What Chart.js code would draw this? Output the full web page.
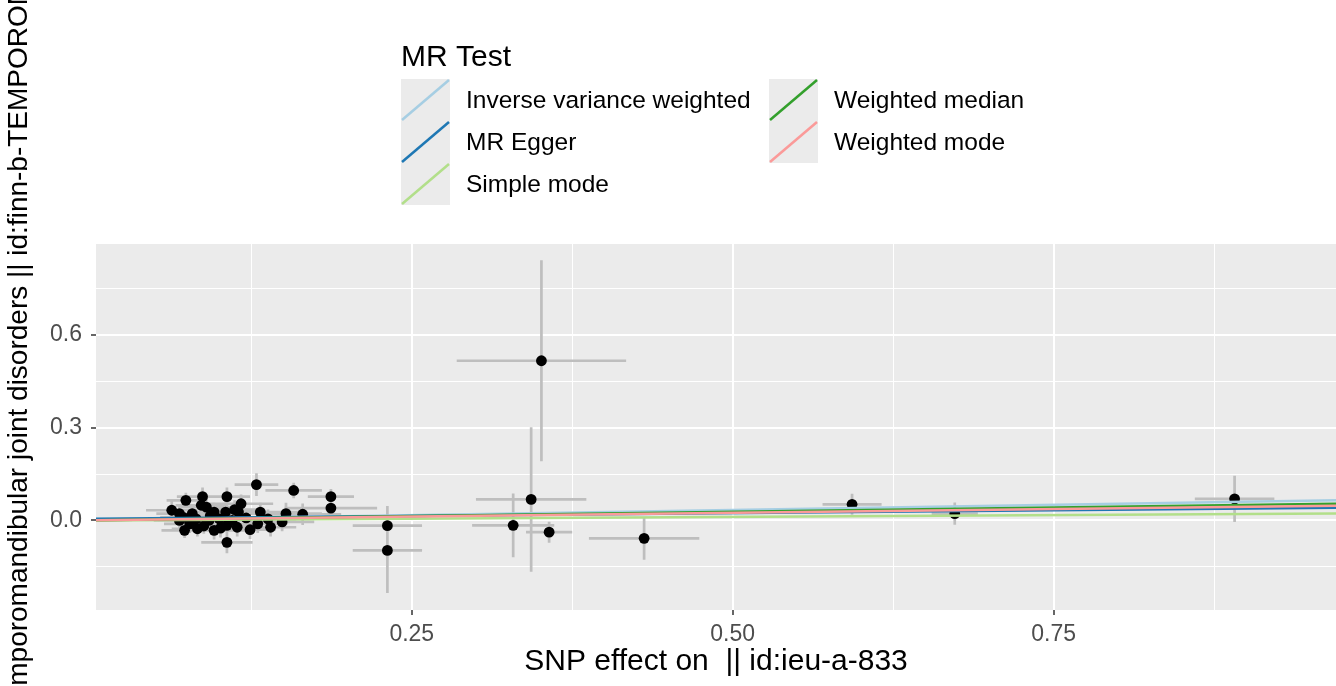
<!DOCTYPE html>
<html>
<head>
<meta charset="utf-8">
<script src="https://cdn.jsdelivr.net/npm/chart.js@4.4.0/dist/chart.umd.min.js"></script>
<style>
  html, body { margin: 0; padding: 0; background: #fff; }
  canvas { display: block; }
</style>
</head>
<body>
<canvas id="mrChart" width="1336" height="686"></canvas>
<script>
// SNP effects on exposure (x) and outcome (y), with their standard errors
const snpX = [0.129, 0.158, 0.187, 0.187, 0.074, 0.087, 0.106, 0.063, 0.086, 0.117,
  0.132, 0.152, 0.069, 0.079, 0.096, 0.105, 0.115, 0.077, 0.073, 0.083,
  0.096, 0.106, 0.114, 0.130, 0.140, 0.149, 0.106, 0.069, 0.092, 0.110,
  0.165, 0.090, 0.082, 0.100, 0.088, 0.101, 0.121, 0.124, 0.072, 0.093,
  0.112, 0.138, 0.231, 0.231, 0.329, 0.343, 0.351, 0.357, 0.431, 0.593,
  0.673, 0.891];
const snpY = [0.116, 0.097, 0.077, 0.040, 0.065, 0.077, 0.077, 0.033, 0.049, 0.054,
  0.027, 0.022, 0.022, 0.022, 0.027, 0.027, 0.027, -0.011, -0.032, -0.027,
  -0.032, -0.016, -0.022, -0.011, -0.022, -0.005, -0.071, 0.000, 0.000, 0.000,
  0.020, 0.043, 0.005, 0.005, -0.018, -0.025, 0.008, -0.030, 0.010, 0.015,
  0.035, 0.005, -0.017, -0.097, -0.016, 0.068, 0.517, -0.038, -0.058, 0.052,
  0.022, 0.070];
const snpXse = [0.017, 0.022, 0.018, 0.036, 0.015, 0.020, 0.018, 0.020, 0.020, 0.025,
  0.030, 0.028, 0.018, 0.020, 0.020, 0.020, 0.020, 0.020, 0.018, 0.020,
  0.025, 0.020, 0.020, 0.020, 0.020, 0.025, 0.020, 0.020, 0.020, 0.020,
  0.030, 0.020, 0.020, 0.020, 0.020, 0.020, 0.022, 0.020, 0.018, 0.020,
  0.020, 0.022, 0.027, 0.027, 0.032, 0.043, 0.066, 0.018, 0.043, 0.023,
  0.018, 0.031];
const snpYse = [0.037, 0.025, 0.025, 0.020, 0.025, 0.030, 0.030, 0.030, 0.030, 0.030,
  0.030, 0.035, 0.025, 0.025, 0.030, 0.030, 0.030, 0.030, 0.025, 0.025,
  0.030, 0.030, 0.030, 0.030, 0.030, 0.030, 0.035, 0.025, 0.030, 0.030,
  0.035, 0.030, 0.030, 0.030, 0.025, 0.030, 0.030, 0.030, 0.025, 0.030,
  0.030, 0.030, 0.064, 0.138, 0.103, 0.234, 0.325, 0.034, 0.069, 0.034,
  0.036, 0.075];

// MR estimates, drawn as lines from x = 0 to x = 1
const methods = ['Inverse variance weighted', 'MR Egger', 'Simple mode', 'Weighted median', 'Weighted mode'];
const fitX = [0, 1];
const fitStart = [0, 0.005, 0, 0, 0];
const fitEnd = [0.067, 0.042, 0.023, 0.056, 0.049];
const methodColors = ['#A6CEE3', '#1F78B4', '#B2DF8A', '#33A02C', '#FB9A99'];

const xTicks = [0.125, 0.25, 0.375, 0.5, 0.625, 0.75, 0.875];
const xLabels = ['', '0.25', '', '0.50', '', '0.75', ''];
const yTicks = [-0.15, 0, 0.15, 0.3, 0.45, 0.6, 0.75];
const yLabels = ['', '0.0', '', '0.3', '', '0.6', ''];

const xTitle = 'SNP effect on  || id:ieu-a-833';
const yTitle = 'SNP effect on Temporomandibular joint disorders || id:finn-b-TEMPOROMANDIB';
const legendTitle = 'MR Test';

const FONT = '"Liberation Sans", Arial, Helvetica, sans-serif';
Chart.defaults.font.family = FONT;

// error bars as broken line segments
const hBars = [];
const vBars = [];
snpX.forEach((x, i) => {
  const y = snpY[i];
  hBars.push({x: x - snpXse[i], y: y}, {x: x + snpXse[i], y: y}, {x: x, y: null});
  vBars.push({x: x, y: y - snpYse[i]}, {x: x, y: y + snpYse[i]}, {x: x, y: null});
});

const datasets = [];
methods.forEach((m, i) => {
  datasets.push({
    type: 'line',
    label: m,
    isMethod: true,
    data: fitX.map((x, k) => ({x: x, y: k === 0 ? fitStart[i] : fitEnd[i]})),
    borderColor: methodColors[i],
    borderWidth: 2.5,
    pointRadius: 0,
    clip: 0,
    order: -i
  });
});
datasets.push({
  label: 'SNPs',
  data: snpX.map((x, i) => ({x: x, y: snpY[i]})),
  backgroundColor: '#000',
  borderWidth: 0,
  pointRadius: 5.4,
  clip: 0,
  order: 10
});
[hBars, vBars].forEach((bars, k) => {
  datasets.push({
    type: 'line',
    label: k ? 'vbar' : 'hbar',
    data: bars,
    borderColor: '#BEBEBE',
    borderWidth: 2.7,
    pointRadius: 0,
    spanGaps: false,
    clip: 0,
    order: 20
  });
});

const panelBg = {
  id: 'panelBg',
  beforeDraw(chart) {
    const {ctx, chartArea: a} = chart;
    ctx.save();
    ctx.fillStyle = '#fff';
    ctx.fillRect(0, 0, chart.width, chart.height);
    ctx.fillStyle = '#EBEBEB';
    ctx.fillRect(a.left, a.top, a.right - a.left, a.bottom - a.top);
    ctx.restore();
  }
};

// y title drawn by hand so it is not squeezed to the panel height
const yTitlePlugin = {
  id: 'yTitle',
  afterDraw(chart) {
    const ctx = chart.ctx;
    ctx.save();
    ctx.font = '28px ' + FONT;
    const cut = yTitle.indexOf('||');
    const before = ctx.measureText(yTitle.slice(0, cut)).width;
    ctx.translate(19, 278 + before);
    ctx.rotate(-Math.PI / 2);
    ctx.fillStyle = '#000';
    ctx.textAlign = 'left';
    ctx.textBaseline = 'middle';
    ctx.fillText(yTitle, 0, 0);
    ctx.restore();
  }
};

const mrLegend = {
  id: 'mrLegend',
  afterDraw(chart) {
    const ctx = chart.ctx;
    ctx.save();
    ctx.fillStyle = '#000';
    ctx.font = '30px ' + FONT;
    ctx.textBaseline = 'alphabetic';
    ctx.fillText(legendTitle, 401, 66);
    const items = chart.data.datasets.filter(d => d.isMethod);
    items.forEach((d, i) => {
      const col = Math.floor(i / 3), row = i % 3;
      const bx = col ? 769 : 401;
      const by = 79 + row * 42;
      ctx.fillStyle = '#EBEBEB';
      ctx.fillRect(bx, by, 49, 42);
      ctx.strokeStyle = d.borderColor;
      ctx.lineWidth = 2.5;
      ctx.beginPath();
      ctx.moveTo(bx + 1, by + 41);
      ctx.lineTo(bx + 48, by + 1);
      ctx.stroke();
      ctx.fillStyle = '#000';
      ctx.font = '24.5px ' + FONT;
      ctx.textBaseline = 'middle';
      ctx.fillText(d.label, bx + 65, by + 22);
    });
    ctx.restore();
  }
};

new Chart(document.getElementById('mrChart').getContext('2d'), {
  type: 'scatter',
  data: { datasets: datasets },
  plugins: [panelBg, yTitlePlugin, mrLegend],
  options: {
    responsive: false,
    animation: false,
    devicePixelRatio: 1,
    events: [],
    layout: { autoPadding: false, padding: { top: 244, left: 0, right: 0, bottom: 0 } },
    plugins: { legend: { display: false }, tooltip: { enabled: false } },
    scales: {
      x: {
        type: 'linear',
        min: 0.004,
        max: 0.97,
        afterBuildTicks: s => { s.ticks = xTicks.map(v => ({value: v})); },
        afterFit: s => { s.height = 76; s.paddingLeft = 0; s.paddingRight = 0; },
        ticks: {
          autoSkip: false, maxRotation: 0, padding: 6,
          color: '#4D4D4D', font: { size: 23 },
          callback: (v, idx) => xLabels[idx]
        },
        grid: {
          color: '#fff',
          lineWidth: c => (xLabels[c.index] ? 2 : 1),
          tickLength: 5,
          tickWidth: 1.5,
          tickColor: c => (xLabels[c.index] ? '#333' : 'rgba(0,0,0,0)')
        },
        border: { display: false },
        title: {
          display: true, text: xTitle, color: '#000',
          font: { size: 30 }, padding: { top: 0, bottom: 6 }
        }
      },
      y: {
        type: 'linear',
        min: -0.29,
        max: 0.895,
        afterBuildTicks: s => { s.ticks = yTicks.map(v => ({value: v})); },
        afterFit: s => { s.width = 96; s.paddingTop = 0; s.paddingBottom = 0; },
        ticks: {
          autoSkip: false, padding: 9,
          color: '#4D4D4D', font: { size: 23 },
          callback: (v, idx) => yLabels[idx]
        },
        grid: {
          color: '#fff',
          lineWidth: c => (yLabels[c.index] ? 2 : 1),
          tickLength: 5,
          tickWidth: 1.5,
          tickColor: c => (yLabels[c.index] ? '#333' : 'rgba(0,0,0,0)')
        },
        border: { display: false }
      }
    }
  }
});
</script>
</body>
</html>
